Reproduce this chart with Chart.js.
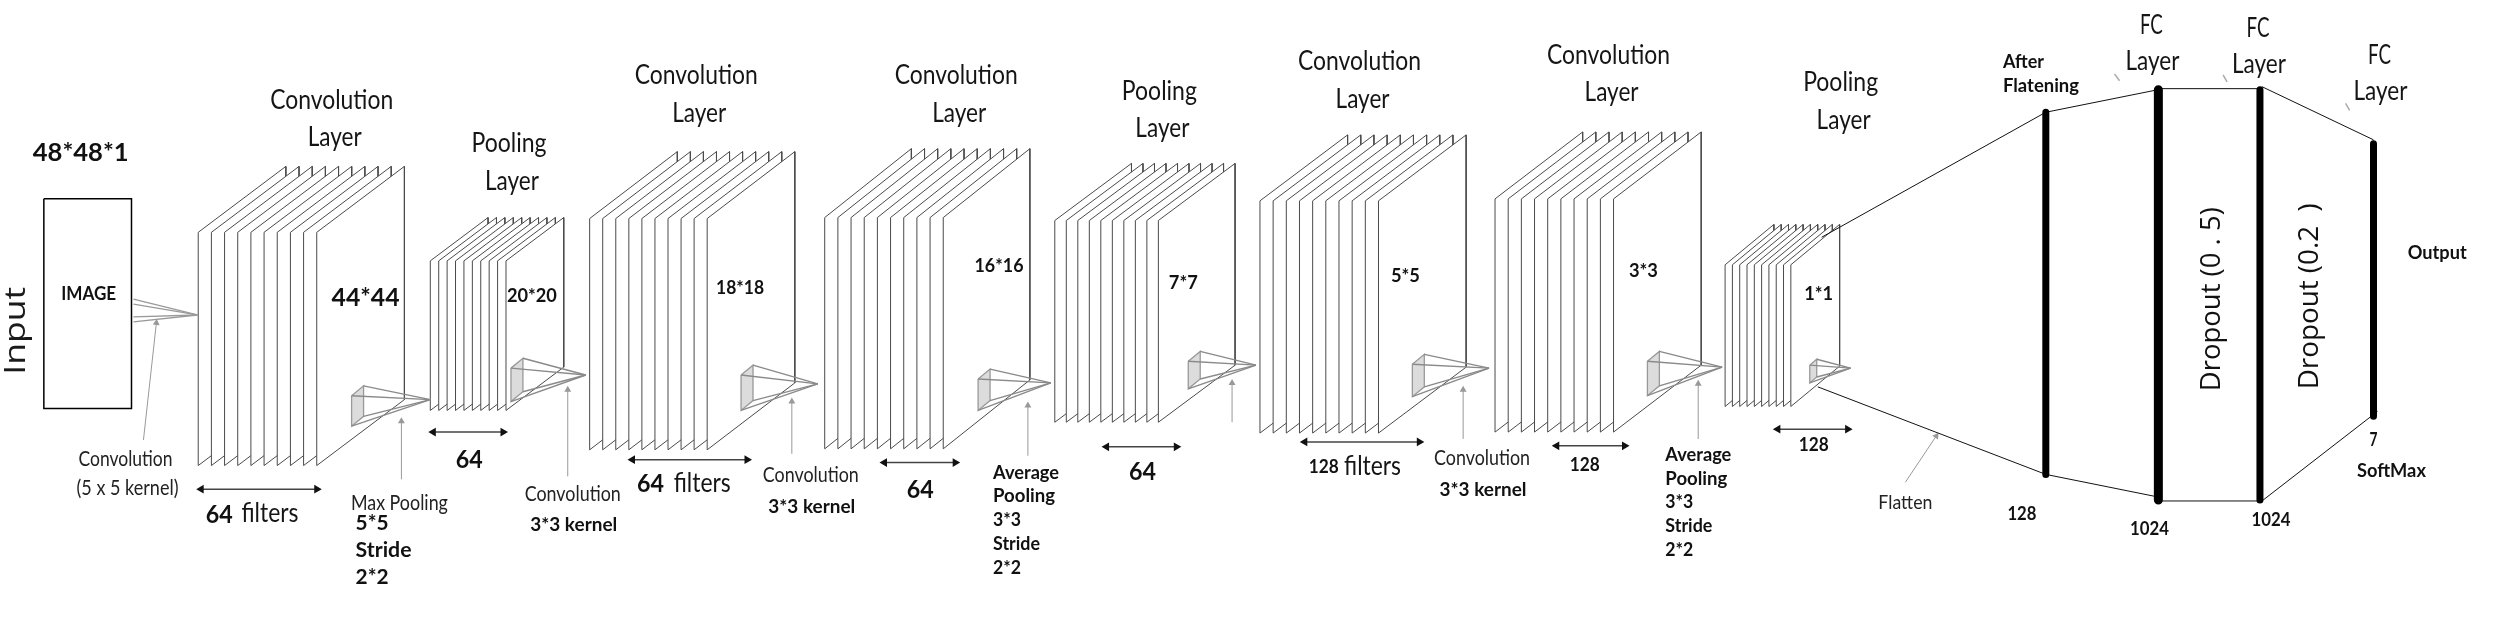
<!DOCTYPE html>
<html>
<head>
<meta charset="utf-8">
<script src="https://cdn.jsdelivr.net/npm/chart.js@4.4.1/dist/chart.umd.min.js"></script>
<style>
  html, body { margin: 0; padding: 0; background: #fff; overflow: hidden; }
  #wrap { position: relative; width: 2502px; height: 628px; }
</style>
</head>
<body>
<div id="wrap"><canvas id="cnn"></canvas></div>
<script>
// what the diagram says
const inputSize = '48*48*1';
const layerKinds = ['Convolution', 'Pooling', 'Convolution', 'Convolution', 'Pooling', 'Convolution', 'Convolution', 'Pooling'];
const mapSizes = ['44*44', '20*20', '18*18', '16*16', '7*7', '5*5', '3*3', '1*1'];
const depthCounts = ['64', '64', '64', '64', '64', '128', '128', '128'];
const depthWords = ['filters', '', 'filters', '', '', 'filters', '', ''];
const fcUnits = ['128', '1024', '1024', '7'];
const dropouts = ['Dropout (0 . 5)', 'Dropout (0.2  )'];
const poolNote = ['Stride', '2*2'];

// layout (pixels of the 2502x628 frame)
const sheetStart = [194, 427, 587, 823, 1054, 1260, 1496, 1727];
const sheetFront = [313, 503, 705, 942, 1158, 1379, 1615, 1793];
const sheetTop = [231, 260, 217, 216, 219, 199, 197, 264];
const sheetBottom = [468, 412, 452, 451, 424, 435, 434, 408];
const sheetDx = [88, 58, 88, 87, 77, 88, 88, 49];
const sheetDy = [67, 44, 68, 70, 58, 67, 68, 41];
const SHEETS = 10;

const kernelX = [348, 508, 739, 977, 1188, 1413, 1649, 1812];
const kernelTop = [397, 369, 376, 380, 362, 365, 362, 366];
const kernelBottom = [428, 403, 412, 412, 390, 398, 397, 384];
const apexX = [427, 583, 816, 1050, 1256, 1490, 1724, 1853];
const apexY = [401, 376, 385, 384, 366, 369, 368, 369];

const pointerTip = [[152, 323], [398, 423], [565, 391], [790, 403], [1027, 407], [1232, 384], [1464, 391], [1700, 385], [1939, 438]];
const pointerBase = [[139, 442], [398, 482], [565, 479], [790, 456], [1027, 458], [1232, 424], [1464, 441], [1700, 441], [1908, 485]];

const spanFrom = [194, 427, 627, 880, 1103, 1302, 1555, 1777];
const spanTo = [316, 503, 748, 957, 1179, 1423, 1629, 1853];
const spanY = [492, 434, 462, 465, 449, 444, 448, 431];

const fcX = [2049, 2162, 2264, 2378];
const fcTop = [109, 86, 86, 141];
const fcBottom = [477, 503, 503, 418];
const fcThick = [7, 9, 7, 7];

const datasets = [];
function shape(points, o = {}) {
  datasets.push({
    data: points.map(([x, y]) => ({ x, y })),
    showLine: true,
    borderColor: o.stroke || '#666',
    borderWidth: o.width ?? 1,
    backgroundColor: o.fill || 'rgba(0,0,0,0)',
    fill: o.fill ? 'shape' : false,
    pointRadius: o.radius || 0,
    pointStyle: 'triangle',
    pointRotation: o.rotation || 0,
    pointBackgroundColor: o.head || '#000',
    pointBorderWidth: 0,
    borderCapStyle: o.cap || 'butt',
    tension: 0,
  });
}
function arrowHead(from, to) {
  return Math.atan2(to[0] - from[0], from[1] - to[1]) * 180 / Math.PI;
}

// input image box and its 5x5 kernel
shape([[39, 197], [127, 197], [127, 410], [39, 410], [39, 197]], { stroke: '#000', width: 1.5 });
[299, 304, 317, 322].forEach(y => shape([[129, y], [193, 315]], { stroke: '#999', width: 1.3 }));

// feature-map stacks
sheetStart.forEach((x0, i) => {
  const step = (sheetFront[i] - x0) / (SHEETS - 1);
  for (let k = 0; k < SHEETS; k++) {
    const x = x0 + k * step;
    const t = sheetTop[i], b = sheetBottom[i], dx = sheetDx[i], dy = sheetDy[i];
    shape([[x, t], [x + dx, t - dy], [x + dx, b - dy], [x, b], [x, t]], { fill: '#fff', stroke: '#4a4a4a' });
  }
});

// kernel pyramids
kernelX.forEach((kx, i) => {
  const sx = i === 7 ? 7 : 12, sy = i === 7 ? 6 : 10;
  const A = [kx, kernelTop[i]], B = [kx + sx, kernelTop[i] - sy];
  const C = [kx + sx, kernelBottom[i] - sy], D = [kx, kernelBottom[i]];
  const P = [apexX[i], apexY[i]];
  shape([A, B, C, D, A], { fill: '#dcdcdc', stroke: '#999', width: 1.3 });
  [B, A, D, C].forEach(p => shape([p, P], { stroke: '#8a8a8a', width: 1.4 }));
});

// pointers from captions
pointerTip.forEach((tip, i) => {
  shape([pointerBase[i], tip], { stroke: '#999', radius: [0, 4], rotation: arrowHead(pointerBase[i], tip), head: '#999' });
});

// depth spans
spanFrom.forEach((a, i) => {
  shape([[a + 3, spanY[i]], [spanTo[i] - 3, spanY[i]]], { stroke: '#444', width: 1.5, radius: [5, 5], rotation: [-90, 90], head: '#111' });
});

// flatten and fully connected part
shape([[1824, 236], [fcX[0], fcTop[0]]], { stroke: '#111' });
shape([[1820, 388], [fcX[0], fcBottom[0]]], { stroke: '#111' });
shape([[fcX[0], fcTop[0]], [fcX[1], fcTop[1]]], { stroke: '#111' });
shape([[fcX[0], fcBottom[0]], [fcX[1], fcBottom[1] - 3]], { stroke: '#111' });
shape([[fcX[1], fcTop[1] - 1], [fcX[2], fcTop[2] - 1]], { stroke: '#111' });
shape([[fcX[1], fcBottom[1] + 1], [fcX[2], fcBottom[2] + 1]], { stroke: '#111' });
shape([[fcX[2] + 2, fcTop[2] - 3], [fcX[3], fcTop[3] - 4]], { stroke: '#111' });
shape([[fcX[2] + 2, fcBottom[2] + 1], [fcX[3] + 4, fcBottom[3] - 5]], { stroke: '#111' });
fcX.forEach((x, i) => shape([[x, fcTop[i]], [x, fcBottom[i]]], { stroke: '#000', width: fcThick[i], cap: 'round' }));
[[2118, 70, 2123, 77], [2227, 71, 2231, 78], [2350, 100, 2354, 107]].forEach(([a, b, c, d]) => shape([[a, b], [c, d]], { stroke: '#aaa', width: 1.5 }));

datasets.forEach((d, i) => { d.order = -i; });

// text
const labels = [];
function label(t, x, y, size, bold, w, extra = {}) {
  labels.push({ t, x, y, size, bold, w, ...extra });
}
label('Input', 11, 331, 30, false, 88, { rot: -Math.PI / 2, family: '"Open Sans"', color: '#1a1a1a' });
label(inputSize, 76, 150, 25, true, 96);
label('IMAGE', 84, 294, 18, true, 55);

const titleX = [328, 506, 694, 955, 1159, 1360, 1610, 1843];
const titleY = [97, 141, 72, 72, 88, 58, 51, 79];
layerKinds.forEach((kind, i) => {
  label(kind, titleX[i], titleY[i], 26, false, kind === 'Convolution' ? 123 : 75, { color: '#151515' });
  label('Layer', titleX[i] + 3, titleY[i] + 38, 26, false, 54, { color: '#151515' });
});
[[2155, 21], [2262, 24], [2384, 51]].forEach(([x, y]) => {
  label('FC', x, y, 26, false, 23, { color: '#151515' });
  label('Layer', x + 1, y + 37, 26, false, 54, { color: '#151515' });
});

const sizeX = [362, 529, 738, 998, 1183, 1406, 1645, 1821];
const sizeY = [298, 296, 288, 265, 283, 276, 271, 294];
const sizeW = [68, 50, 48, 49, 29, 29, 29, 29];
mapSizes.forEach((s, i) => label(s, sizeX[i], sizeY[i], i === 0 ? 24 : 18, true, sizeW[i]));

const depthX = [215, 466, 648, 919, 1142, 1324, 1586, 1816];
const depthY = [518, 462, 487, 493, 475, 470, 468, 447];
const wordX = [266, 0, 700, 0, 0, 1373, 0, 0];
depthCounts.forEach((c, i) => {
  const big = c === '64';
  label(c, depthX[i], depthY[i], big ? 25 : 18, true, big ? 27 : 30);
  if (depthWords[i]) label(depthWords[i], wordX[i], depthY[i] - 1, 26, false, 57, { color: '#151515' });
});

label('Convolution', 121, 462, 21, false, 94, { color: '#222' });
label('(5 x 5 kernel)', 123, 491, 21, false, 102, { color: '#222' });
label('Max Pooling', 396, 506, 21, false, 97, { color: '#222' });
label('5*5', 352, 527, 21, true, 33, { align: 'left' });
label(poolNote[0], 352, 554, 21, true, 56, { align: 'left' });
label(poolNote[1], 352, 582, 21, true, 33, { align: 'left' });
[[570, 497], [809, 478], [1483, 461]].forEach(([x, y]) => {
  label('Convolution', x, y, 21, false, 96, { color: '#222' });
  label('3*3 kernel', x + 1, y + 32, 18, true, 87);
});
[[992, 475], [1667, 457]].forEach(([x, y]) => {
  ['Average', 'Pooling', '3*3', poolNote[0], poolNote[1]].forEach((t, k) => {
    label(t, x, y + k * 24.2, 19, true, [66, 62, 28, 47, 28][k], { align: 'left' });
  });
});
label('Flatten', 1908, 506, 20, false, 54, { color: '#222' });

label('After', 2006, 58, 18, true, 41, { align: 'left' });
label('Flatening', 2006, 82, 18, true, 76, { align: 'left' });
const unitX = [2025, 2153, 2275, 2378];
const unitY = [517, 533, 524, 442];
fcUnits.forEach((u, i) => label(u, unitX[i], unitY[i], 18, true, [29, 39, 39, 8][i]));
label('SoftMax', 2396, 474, 18, true, 69);
label('Output', 2442, 252, 18, true, 59);
label(dropouts[0], 2216, 299, 27, false, 184, { rot: -Math.PI / 2, family: '"Open Sans"', color: '#111' });
label(dropouts[1], 2315, 296, 27, false, 186, { rot: -Math.PI / 2, family: '"Open Sans"', color: '#111' });

const textPlugin = {
  id: 'diagramText',
  afterDatasetsDraw(chart) {
    const { ctx, scales: { x, y } } = chart;
    labels.forEach(l => {
      ctx.save();
      ctx.font = `${l.bold ? 'bold ' : ''}${l.size}px ${l.family || 'Lato'}, sans-serif`;
      ctx.fillStyle = l.color || '#111';
      ctx.textBaseline = 'middle';
      ctx.textAlign = l.align || 'center';
      ctx.translate(x.getPixelForValue(l.x), y.getPixelForValue(l.y));
      if (l.rot) ctx.rotate(l.rot);
      const m = ctx.measureText(l.t).width;
      if (l.w && m) ctx.scale(l.w / m, 1);
      ctx.fillText(l.t, 0, 0);
      ctx.restore();
    });
  },
};

new Chart(document.getElementById('cnn'), {
  type: 'scatter',
  data: { datasets },
  options: {
    responsive: true,
    maintainAspectRatio: false,
    devicePixelRatio: 1,
    animation: false,
    events: [],
    layout: { padding: 0 },
    scales: {
      x: { type: 'linear', min: 0, max: 2502, display: false },
      y: { type: 'linear', min: 0, max: 628, reverse: true, display: false },
    },
    plugins: { legend: { display: false }, tooltip: { enabled: false } },
  },
  plugins: [textPlugin],
});
</script>
</body>
</html>
